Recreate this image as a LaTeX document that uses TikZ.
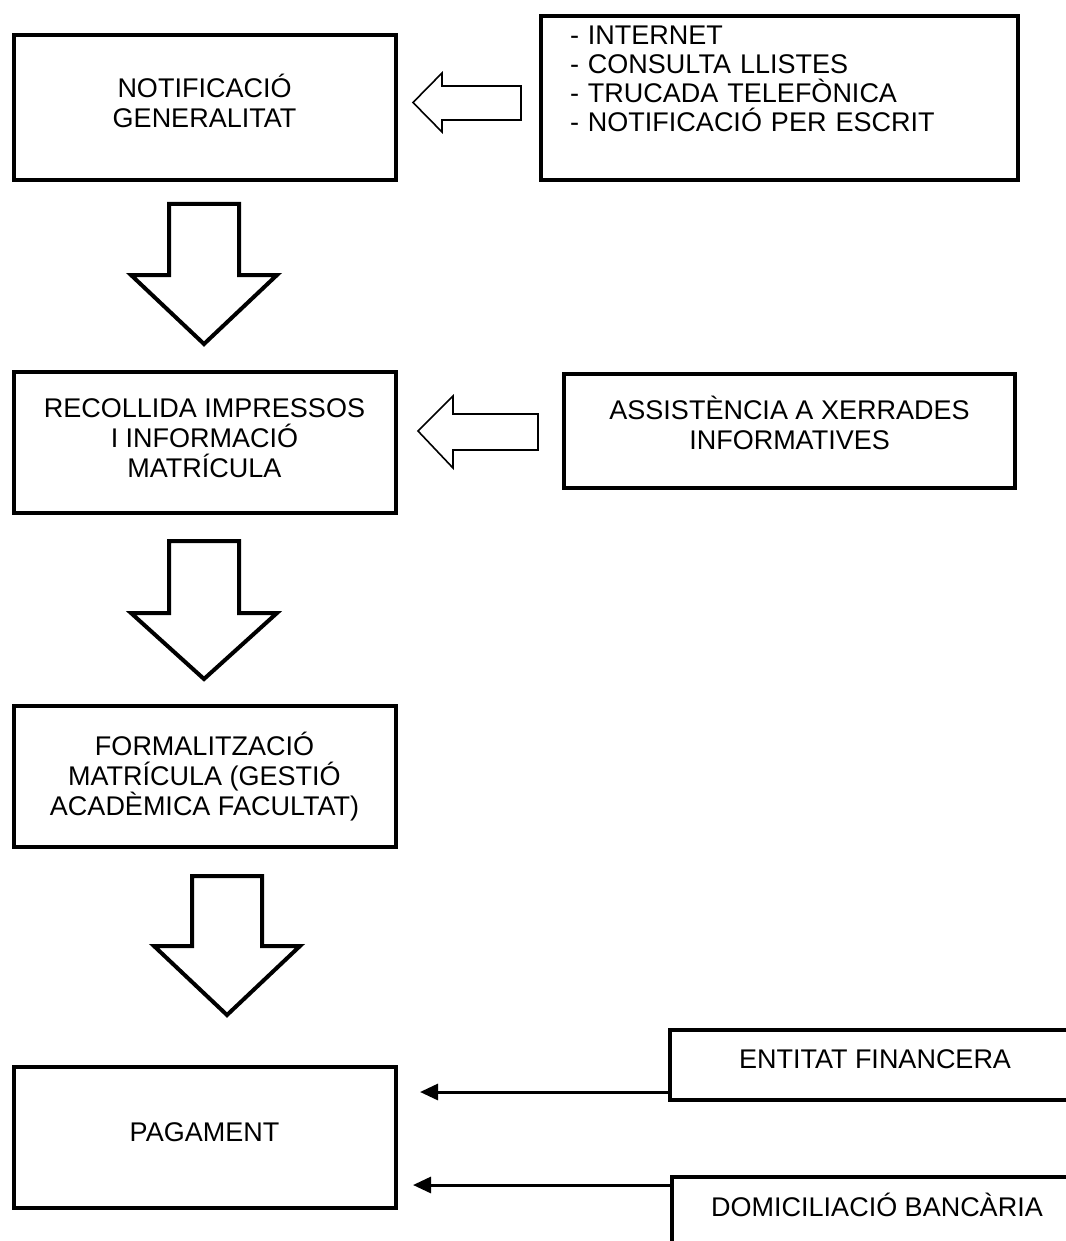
\documentclass[tikz,border=0pt]{standalone}
\usepackage{fontspec}
\setmainfont{Liberation Sans}
\usetikzlibrary{arrows.meta}
\tikzset{
	box/.style={draw,line width=2pt,align=center,inner sep=0pt},
	hollow/.style={draw,line width=2pt,fill=white,line join=miter},
	hollowthin/.style={draw,line width=0.8pt,fill=white,line join=miter},
	feed/.style={->,line width=1.5pt}
}
\begin{document}
\begin{tikzpicture}[x=0.5pt,y=-0.5pt,>={Triangle[length=9pt,width=8pt]},line cap=butt,font=\fontsize{13.5}{15}\selectfont]
				\useasboundingbox (0,0) rectangle (1065,1241);
				\node[box,minimum width=191pt,minimum height=72.5pt,text depth=7pt] (notif) at (204.5,107.5) {NOTIFICACIÓ\\GENERALITAT};
				\node[box,minimum width=191pt,minimum height=70.5pt,text depth=4pt] (recollida) at (204.5,442.5) {RECOLLIDA IMPRESSOS\\I INFORMACIÓ\\MATRÍCULA};
				\node[box,minimum width=191pt,minimum height=70.5pt] (formal) at (204.5,776.5) {FORMALITZACIÓ\\MATRÍCULA (GESTIÓ\\ACADÈMICA FACULTAT)};
				\node[box,minimum width=191pt,minimum height=70.5pt,text depth=5pt] (pagament) at (204.5,1137.5) {PAGAMENT};
				\node[box,anchor=north west,align=left,inner xsep=14.5pt,text width=209.5pt,text height=14.25pt,text depth=67.75pt,font=\fontsize{13.5}{14.5}\selectfont] (canals) at (539,14) {- INTERNET\\- CONSULTA LLISTES\\- TRUCADA TELEFÒNICA\\- NOTIFICACIÓ PER ESCRIT};
				\node[box,minimum width=225.5pt,minimum height=57pt,text depth=8pt] (xerrades) at (789.5,431) {ASSISTÈNCIA A XERRADES\\INFORMATIVES};
				\node[box,minimum width=205pt,minimum height=35pt,text depth=6pt] (entitat) at (875,1065) {ENTITAT FINANCERA};
				\node[box,anchor=north west,minimum width=205pt,text height=19.75pt,text depth=38pt] (domicili) at (670,1174.5) {DOMICILIACIÓ BANCÀRIA};
				\path
				(420,1090) coordinate (P1)
				(413,1185) coordinate (P2)
				;
				\foreach \cx/\ty/\hy/\py in {204/204/275/344,204/541/613/679,227/876/946/1015}
				\draw[hollow] ({\cx-35},\ty) -- ({\cx+35},\ty) -- ({\cx+35},\hy) -- ({\cx+73},\hy) -- (\cx,\py) -- ({\cx-73},\hy) -- ({\cx-35},\hy) -- cycle;
				\draw[hollowthin] (521,86) -- (442,86) -- (442,73) -- (413,102.5) -- (442,132) -- (442,120) -- (521,120) -- cycle;
				\draw[hollowthin] (538,414) -- (453,414) -- (453,396) -- (418,431) -- (453,468) -- (453,450) -- (538,450) -- cycle;
				\draw[feed] ([yshift=5pt]entitat.south west) coordinate (E1) -- (E1 -| P1);
				\draw[feed] ([yshift=-5.25pt]domicili.north west) coordinate (D1) -- (D1 -| P2);
			\end{tikzpicture}
\end{document}
